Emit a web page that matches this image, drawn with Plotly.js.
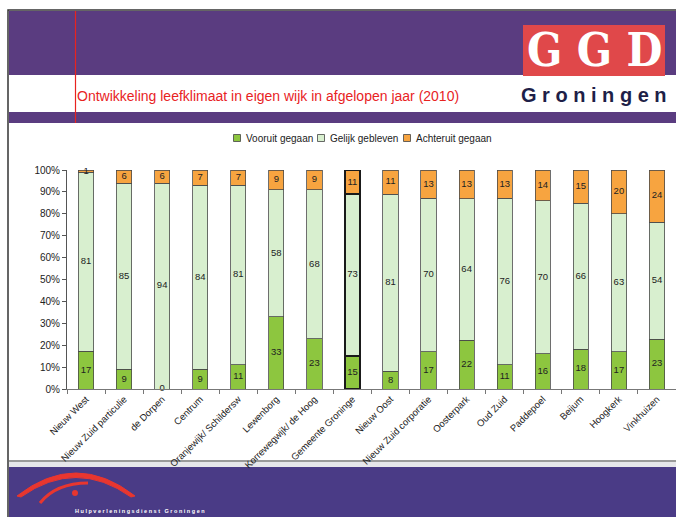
<!DOCTYPE html>
<html>
<head>
<meta charset="utf-8">
<script src="https://cdn.plot.ly/plotly-3.0.1.min.js"></script>
<style>
html,body{margin:0;padding:0;background:#fff;}
#chart{width:676px;height:517px;}
</style>
</head>
<body>
<div id="chart"></div>
<script>
// ---- data ----
const categories = [
  "Nieuw West", "Nieuw Zuid particulie", "de Dorpen", "Centrum",
  "Oranjewijk/ Schildersw", "Lewenborg", "Korrewegwijk/ de Hoog",
  "Gemeente Groninge", "Nieuw Oost", "Nieuw Zuid corporatie",
  "Oosterpark", "Oud Zuid", "Paddepoel", "Beijum", "Hoogkerk", "Vinkhuizen"
];
const vooruit    = [17, 9, 0, 9, 11, 33, 23, 15, 8, 17, 22, 11, 16, 18, 17, 23];
const gelijk     = [81, 85, 94, 84, 81, 58, 68, 73, 81, 70, 64, 76, 70, 66, 63, 54];
const achteruit  = [1, 6, 6, 7, 7, 9, 9, 11, 11, 13, 13, 13, 14, 15, 20, 24];
const seriesNames = ["Vooruit gegaan", "Gelijk gebleven", "Achteruit gegaan"];
const yTickVals = [0,10,20,30,40,50,60,70,80,90,100];
const highlightCategory = "Gemeente Groninge";

// ---- styling ----
const colors = ["#8dc63f", "#d8efcf", "#f7a440"];
const lineWidths = categories.map(c => c === highlightCategory ? 2 : 0.8);
const lineColors = categories.map(c => c === highlightCategory ? "#1a1a1a" : "#4a4a4a");
const FONT = "Liberation Sans, Arial, sans-serif";
const NARROW = "Liberation Sans Narrow, Liberation Sans, Arial, sans-serif";

const ML = 67, MR = 0, MT = 170, MB = 128, W = 676, H = 517;
const PW = W - ML - MR, PH = H - MT - MB;
const X = px => (px - ML) / PW;
const Y = py => (H - MB - py) / PH;

const series = [vooruit, gelijk, achteruit];
const totals = categories.map((_, j) => series.reduce((s, arr) => s + arr[j], 0));

const traces = series.map((vals, i) => ({
  type: "bar",
  name: seriesNames[i],
  x: categories,
  y: vals,
  marker: {color: colors[i], line: {color: lineColors, width: lineWidths}},
  hoverinfo: "x+y+name",
  showlegend: false
}));

// value labels placed at the middle of each (normalised) segment
series.forEach((vals, i) => {
  const mids = categories.map((_, j) => {
    let before = 0;
    for (let k = 0; k < i; k++) before += series[k][j];
    return (before + vals[j] / 2) / totals[j] * 100;
  });
  traces.push({
    type: "scatter", mode: "text",
    x: categories, y: mids,
    text: vals.map(String),
    textposition: "middle center",
    textfont: {family: FONT, size: 9.5, color: "#222"},
    cliponaxis: false, hoverinfo: "skip", showlegend: false
  });
});

const purpleTop = "#5a3c80";
const purpleBot = "#4a3b86";
const red = "#e8231f";

function rect(x0, y0, x1, y1, fill, line, layer) {
  return {type: "rect", xref: "paper", yref: "paper", layer: layer || "below",
    x0: X(x0), x1: X(x1), y0: Y(y1), y1: Y(y0),
    fillcolor: fill, line: line || {width: 0}};
}
function P(px, py) { return X(px).toFixed(5) + "," + Y(py).toFixed(5); }

// custom legend (compact, like the original)
const legendSquares = [237, 321, 407];
const legendTextX = [244, 328, 414];
const legendY = 138;

const shapes = [
  rect(8, 10, 680, 520, "#ffffff", {color: "#333", width: 1.5}),
  rect(9, 11, 680, 75, purpleTop),
  rect(9, 112, 680, 123, purpleTop),
  rect(9, 460, 680, 462, "#9a9a9a"),
  rect(9, 462, 680, 467, "#e6e6ea"),
  rect(9, 467, 680, 520, purpleBot),
  {type: "line", xref: "paper", yref: "paper", layer: "below",
    x0: X(75.5), x1: X(75.5), y0: Y(11), y1: Y(123), line: {color: red, width: 1.2}},
  rect(523, 25, 665, 76, "#e0484a"),
  {type: "path", xref: "paper", yref: "paper", layer: "above",
    path: "M " + P(17, 496) + " Q " + P(76, 450) + " " + P(135, 496) +
          " L " + P(131, 497) + " Q " + P(76, 458) + " " + P(21, 497) + " Z",
    fillcolor: "#e8362f", line: {color: "#e8362f", width: 1}},
  {type: "path", xref: "paper", yref: "paper", layer: "above",
    path: "M " + P(40, 503) + " Q " + P(56, 483) + " " + P(88, 483),
    line: {color: "#e8362f", width: 3}},
  {type: "circle", xref: "paper", yref: "paper", layer: "above",
    x0: X(72), x1: X(78), y0: Y(496), y1: Y(490),
    fillcolor: "#e8362f", line: {width: 0}}
];
legendSquares.forEach((sx, i) => {
  shapes.push(rect(sx - 3.5, legendY - 3.5, sx + 3.5, legendY + 3.5, colors[i],
    {color: "#444", width: 0.8}, "above"));
});

const annotations = [
  {xref: "paper", yref: "paper", x: X(594), y: Y(50), xanchor: "center", yanchor: "middle",
    showarrow: false, text: "<b>G G D</b>",
    font: {family: "DejaVu Serif Condensed, DejaVu Serif, serif", size: 46, color: "#ffffff"}},
  {xref: "paper", yref: "paper", x: X(594), y: Y(95), xanchor: "center", yanchor: "middle",
    showarrow: false, text: "<b>G r o n i n g e n</b>",
    font: {family: NARROW, size: 20, color: "#1e1f48"}},
  {xref: "paper", yref: "paper", x: X(73), y: Y(511), xanchor: "left", yanchor: "middle",
    showarrow: false, text: "<b>H u l p v e r l e n i n g s d i e n s t   G r o n i n g e n</b>",
    font: {family: FONT, size: 5.5, color: "#ffffff"}}
];
seriesNames.forEach((n, i) => {
  annotations.push({xref: "paper", yref: "paper", x: X(legendTextX[i]), y: Y(legendY),
    xanchor: "left", yanchor: "middle", showarrow: false, text: n,
    font: {family: FONT, size: 10, color: "#222"}});
});

const layout = {
  width: W, height: H,
  margin: {l: ML, r: MR, t: MT, b: MB, pad: 0},
  paper_bgcolor: "#ffffff",
  plot_bgcolor: "rgba(0,0,0,0)",
  barmode: "stack",
  barnorm: "percent",
  bargap: 0.6,
  title: {
    text: "Ontwikkeling leefklimaat in eigen wijk in afgelopen jaar (2010)",
    xref: "container", yref: "container",
    x: 77 / W, y: 1 - 96 / H, xanchor: "left", yanchor: "middle",
    font: {family: FONT, size: 14, color: red}
  },
  showlegend: false,
  xaxis: {
    type: "category",
    range: [-0.5, categories.length - 0.5],
    tickangle: -45,
    tickfont: {family: NARROW, size: 9.5, color: "#222"},
    showline: true, linecolor: "#777", linewidth: 1,
    ticks: "outside", tickson: "boundaries", ticklen: 4, tickcolor: "#777",
    showgrid: false, zeroline: false, automargin: false
  },
  yaxis: {
    range: [0, 100],
    tickvals: yTickVals,
    ticktext: yTickVals.map(v => v + "%"),
    tickfont: {family: NARROW, size: 10, color: "#222"},
    showline: true, linecolor: "#555", linewidth: 1,
    ticks: "outside", ticklen: 4, tickcolor: "#555",
    showgrid: false, zeroline: false, automargin: false
  },
  shapes: shapes,
  annotations: annotations
};

Plotly.newPlot("chart", traces, layout, {displayModeBar: false, responsive: false});
</script>
</body>
</html>
